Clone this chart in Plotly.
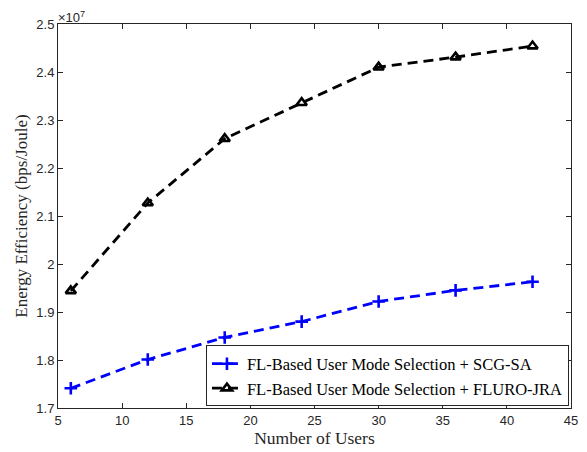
import plotly.graph_objects as go

users = [6, 12, 18, 24, 30, 36, 42]
scg_sa = [1.741, 1.801, 1.847, 1.880, 1.922, 1.945, 1.963]      # x 1e7
fluro_jra = [1.944, 2.127, 2.261, 2.336, 2.410, 2.431, 2.454]  # x 1e7
x_ticks = [5, 10, 15, 20, 25, 30, 35, 40, 45]
y_ticks = [1.7, 1.8, 1.9, 2.0, 2.1, 2.2, 2.3, 2.4, 2.5]
y_ticktext = ["1.7", "1.8", "1.9", "2", "2.1", "2.2", "2.3", "2.4", "2.5"]

fig = go.Figure()
fig.add_trace(go.Scatter(
    x=users, y=scg_sa, mode="lines+markers",
    name="FL-Based User Mode Selection + SCG-SA",
    line=dict(color="#0000ff", width=2.8, dash="10px,6px"),
    marker=dict(symbol="cross-thin", size=9, line=dict(color="#0000ff", width=2.6)),
))
fig.add_trace(go.Scatter(
    x=users, y=fluro_jra, mode="lines+markers",
    name="FL-Based User Mode Selection + FLURO-JRA",
    line=dict(color="#000000", width=2.8, dash="10px,6px"),
    marker=dict(symbol="triangle-up-open", size=9, line=dict(color="#000000", width=2.6)),
))

axis_common = dict(
    showline=True, linecolor="#262626", linewidth=1, mirror="ticks",
    ticks="inside", ticklen=5, tickcolor="#262626", showgrid=False, zeroline=False,
    tickfont=dict(family="Liberation Sans, Arial, sans-serif", size=13, color="#262626"),
)

fig.update_layout(
    width=587, height=452,
    margin=dict(l=58, r=9, t=24, b=44),
    plot_bgcolor="white", paper_bgcolor="white",
    showlegend=True,
    legend=dict(
        x=0.996, y=0.004, xanchor="right", yanchor="bottom",
        bgcolor="white", bordercolor="#262626", borderwidth=1,
        font=dict(family="Liberation Serif, Times New Roman, serif", size=16.5, color="#000000"),
        tracegroupgap=0, itemwidth=30,
    ),
    xaxis=dict(range=[5, 45], tickvals=x_ticks,
               title=dict(text="Number of Users", standoff=2,
                          font=dict(family="Liberation Serif, Times New Roman, serif", size=17.5, color="#262626")),
               **axis_common),
    yaxis=dict(range=[1.7, 2.5], tickvals=y_ticks, ticktext=y_ticktext,
               title=dict(text="Energy Efficiency (bps/Joule)", standoff=4,
                          font=dict(family="Liberation Serif, Times New Roman, serif", size=17, color="#262626")),
               **axis_common),
)
fig.add_annotation(
    xref="paper", yref="paper", x=0, y=1, xanchor="left", yanchor="bottom",
    text="\u00d710<sup>7</sup>", showarrow=False, xshift=-2, yshift=-3,
    font=dict(family="Liberation Sans, Arial, sans-serif", size=13, color="#262626"),
)
fig.write_html("out.html")
